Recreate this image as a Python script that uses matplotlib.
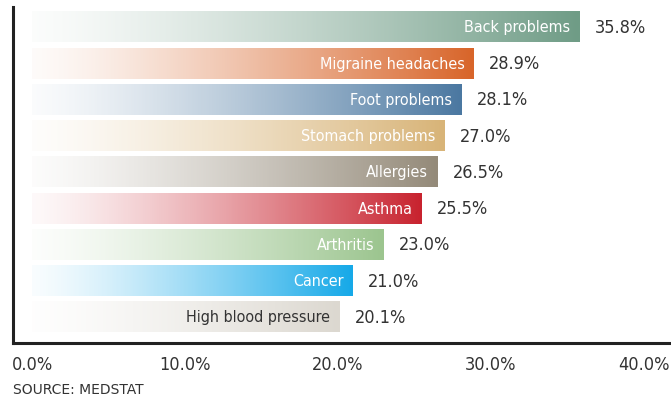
import numpy as np
import matplotlib
matplotlib.use('Agg')
import matplotlib.pyplot as plt
from matplotlib.colors import LinearSegmentedColormap

categories = ['Back problems', 'Migraine headaches', 'Foot problems', 'Stomach problems',
              'Allergies', 'Asthma', 'Arthritis', 'Cancer', 'High blood pressure']
values = [35.8, 28.9, 28.1, 27.0, 26.5, 25.5, 23.0, 21.0, 20.1]
colors = ['#6f9c86', '#d8652a', '#4b78a1', '#d8b478', '#948a79',
          '#c8232f', '#9cc58f', '#16a9e8', '#dcd8d0']
label_colors = ['white'] * 8 + ['#333333']
ticks = [0, 10, 20, 30, 40]

cond = dict(family='DejaVu Sans', stretch='condensed')

fig = plt.figure(figsize=(6.71, 4.02), dpi=100)
ax = fig.add_axes([0.0194, 0.1443, 0.9806, 0.836])

y = np.arange(len(categories))
bars = ax.barh(y, values, height=0.86, color='none', edgecolor='none')

# each bar fades from white on the left to its colour on the right
grad = np.linspace(0, 1, 256).reshape(1, -1) ** 1.3
for bar, col, cat, val, lc in zip(bars, colors, categories, values, label_colors):
    cmap = LinearSegmentedColormap.from_list('g', ['#ffffff', col])
    x0, y0 = bar.get_x(), bar.get_y()
    w, h = bar.get_width(), bar.get_height()
    img = ax.imshow(grad, extent=(x0, x0 + w, y0 + h, y0), cmap=cmap, vmin=-0.03, vmax=1,
                    aspect='auto', interpolation='bicubic')
    img.set_clip_path(bar)
    ax.text(val - 0.6, bar.get_y() + h / 2, cat, ha='right', va='center', color=lc,
            fontsize=11.5, **cond)
    ax.annotate(f'{val:.1f}%', (val, bar.get_y() + h / 2), xytext=(11, 0),
                textcoords='offset points', ha='left', va='center', color='#333333',
                fontsize=13, **cond)

ax.set_xlim(-1.25, 41.8)
ax.set_ylim(8.72, -0.55)
ax.set_xticks(ticks)
ax.set_xticklabels([f'{t:.1f}%' for t in ticks], fontsize=13, color='#333333', **cond)
ax.tick_params(axis='x', length=0, pad=9)
ax.set_yticks([])
for s in ['top', 'right']:
    ax.spines[s].set_visible(False)
for s in ['left', 'bottom']:
    ax.spines[s].set_linewidth(2.2)
    ax.spines[s].set_color('#222222')

fig.text(13 / 671, 1 - 390 / 402, 'SOURCE: MEDSTAT', ha='left', va='center',
         fontsize=10, color='#333333', family='DejaVu Sans')

fig.savefig('out.png', dpi=100)
